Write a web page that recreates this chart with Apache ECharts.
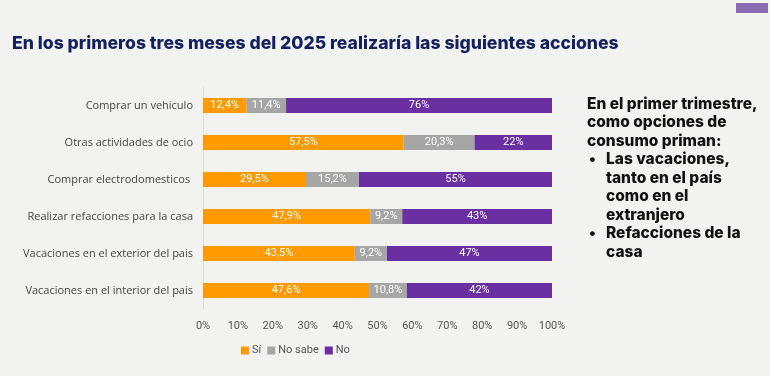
<!DOCTYPE html>
<html>
<head>
<meta charset="utf-8">
<script src="https://cdn.jsdelivr.net/npm/echarts@6/dist/echarts.min.js"></script>
<style>
  html, body { margin: 0; padding: 0; background: #f2f2f1; }
  #chart { width: 770px; height: 376px; }
</style>
</head>
<body>
<div id="chart"></div>
<script>
// categorías de arriba hacia abajo
const categories = [
  'Comprar un vehiculo',
  'Otras actividades de ocio',
  'Comprar electrodomesticos ',
  'Realizar refacciones para la casa',
  'Vacaciones en el exterior del pais',
  'Vacaciones en el interior del pais'
]
const si = [12.4, 57.5, 29.5, 47.9, 43.5, 47.6]
const noSabe = [11.4, 20.3, 15.2, 9.2, 9.2, 10.8]
const no = [76.2, 22.2, 55.3, 42.9, 47.3, 41.6]
const xTicks = [0, 10, 20, 30, 40, 50, 60, 70, 80, 90, 100]

const sideLines = [
  'En el primer trimestre,',
  'como opciones de',
  'consumo priman:'
]
const bullets = [
  ['Las vacaciones,', 'tanto en el país', 'como en el', 'extranjero'],
  ['Refacciones de la', 'casa']
]

const chart = echarts.init(document.getElementById('chart'))

const fmtDec = p => p.value.toFixed(1).replace('.', ',') + '%'
const fmtInt = p => Math.round(p.value) + '%'

function barSeries(name, data, color, fmt) {
  return {
    name, type: 'bar', stack: 'total', data,
    barWidth: 15,
    itemStyle: { color },
    label: { show: true, position: 'inside', color: '#fff', fontSize: 11, fontFamily: 'Roboto', formatter: fmt },
    emphasis: { disabled: true }
  }
}

// texto lateral
const side = []
let y = 96
const lh = 18.5
const sideFont = { fontSize: 15.5, fontWeight: 800, fontFamily: 'Inter', fill: '#111' }
sideLines.forEach(t => {
  side.push({ type: 'text', left: 587, top: y, style: { text: t, ...sideFont } })
  y += lh
})
bullets.forEach(group => {
  side.push({ type: 'text', left: 589, top: y, style: { text: '•', ...sideFont } })
  group.forEach(t => {
    side.push({ type: 'text', left: 606, top: y, style: { text: t, ...sideFont } })
    y += lh
  })
})

chart.setOption({
  backgroundColor: '#f2f2f1',
  animation: false,
  title: {
    text: 'En los primeros tres meses del 2025 realizaría las siguientes acciones',
    left: 7, top: 30,
    textStyle: { fontSize: 17.6, fontWeight: 800, color: '#14215e', fontFamily: 'Inter' }
  },
  legend: {
    data: ['Sí', 'No sabe', 'No'],
    left: 236, top: 340,
    itemWidth: 8, itemHeight: 8, itemGap: 6,
    icon: 'rect',
    textStyle: { fontSize: 11, color: '#555', fontFamily: 'Roboto', padding: [0, 0, 0, -2] }
  },
  grid: { left: 203, right: 218, top: 87, bottom: 67 },
  xAxis: {
    type: 'value', min: 0, max: 100, interval: 10,
    axisLabel: { formatter: v => xTicks.includes(v) ? v + '%' : '', color: '#555', fontSize: 11, fontFamily: 'Roboto', margin: 12 },
    splitLine: { show: false },
    axisLine: { show: false }, axisTick: { show: false }
  },
  yAxis: {
    type: 'category', data: categories, inverse: true,
    axisLine: { show: true, lineStyle: { color: '#dcdcdc' } },
    axisTick: { show: false },
    axisLabel: { color: '#444', fontSize: 11, fontFamily: 'Open Sans', margin: 10 }
  },
  graphic: [
    { type: 'rect', shape: { x: 736, y: 3, width: 32, height: 10 }, style: { fill: '#8a6bb1' } },
    ...side
  ],
  series: [
    barSeries('Sí', si, '#ff9a00', fmtDec),
    barSeries('No sabe', noSabe, '#a6a6a6', fmtDec),
    barSeries('No', no, '#6a2fa0', fmtInt)
  ]
})
</script>
</body>
</html>
